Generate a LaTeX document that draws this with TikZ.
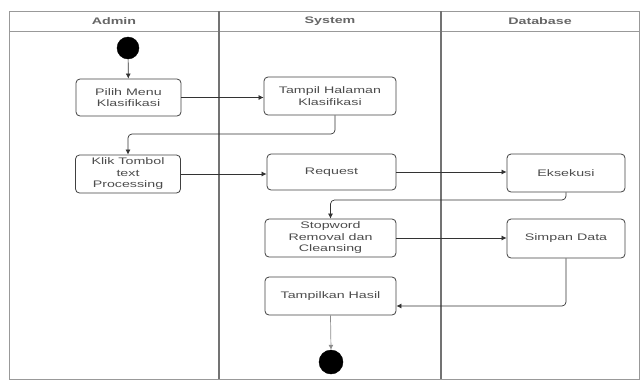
\documentclass[tikz,border=0pt]{standalone}
\usepackage{fontspec}
\setmainfont[FakeStretch=1.5]{Liberation Sans}
\usetikzlibrary{arrows.meta}
\begin{document}
\begin{tikzpicture}[x=1pt,y=-1pt,
  act/.style={draw=black!75,line width=0.8pt,rounded corners=4pt,align=center,
    inner sep=1pt,font=\fontsize{9.5}{11.5}\selectfont,text=black!70},
  dot/.style={circle,fill=black,draw=black,inner sep=0pt},
  flow/.style={draw=black!80,line width=0.7pt,rounded corners=4pt,
    -{Latex[length=5pt,width=5pt]}},
  lane/.style={draw=black!55,line width=1.6pt},
  frame/.style={draw=black!40,line width=1pt},
  head/.style={font=\bfseries\fontsize{9.5}{11}\selectfont,text=black!60}]
\useasboundingbox (0,0) rectangle (640,381);
% swimlane frame
\draw[frame] (9,11) rectangle (639,379);
\draw[frame] (9,31) -- (639,31);
\draw[lane] (219,11) -- (219,379);
\draw[lane] (441,11) -- (441,379);
\node[head] (hadmin) at (114,21) {Admin};
\node[head] (hsys) at (330,21) {System};
\node[head] (hdb) at (540,21) {Database};
% nodes
\node[dot,minimum size=22pt] (start) at (128,48) {};
\node[act,minimum width=105pt,minimum height=37pt] (pilih) at (128.5,97.5) {Pilih Menu\\Klasifikasi};
\node[act,minimum width=105pt,minimum height=38pt] (klik) at (128,174) {Klik Tombol\\text\\Processing};
\node[act,minimum width=132pt,minimum height=38pt] (tampil) at (330,96) {Tampil Halaman\\Klasifikasi};
\node[act,minimum width=129pt,minimum height=36pt] (request) at (331.5,172) {Request};
\node[act,minimum width=118pt,minimum height=38pt] (eksekusi) at (566,173) {Eksekusi};
\node[act,minimum width=131pt,minimum height=38pt] (stopword) at (330.5,238) {Stopword\\Removal dan\\Cleansing};
\node[act,minimum width=118pt,minimum height=39pt] (simpan) at (566,238.5) {Simpan Data};
\node[act,minimum width=131pt,minimum height=38pt] (tampilkan) at (330.5,296) {Tampilkan Hasil};
\node[dot,minimum size=24pt] (end) at (331,362) {};
% connectors
\draw[flow] (start) -- (pilih);
\draw[flow] (pilih.east) -- (pilih.east -| tampil.west);
\coordinate (c1) at (335,134);
\draw[flow] (tampil.south -| c1) -- (c1) -| (klik.north);
\draw[flow] (klik.east) -- (klik.east -| request.west);
\draw[flow] (request.east) -- (request.east -| eksekusi.west);
\coordinate (c2) at (566,200);
\draw[flow] (eksekusi.south) -- (c2) -| (stopword.north);
\draw[flow] (stopword.east) -- (stopword.east -| simpan.west);
\draw[flow] (simpan.south) |- ([yshift=-10pt]tampilkan.east);
\draw[flow,draw=black!45] (tampilkan.south) -- (end.north);
\end{tikzpicture}
\end{document}
